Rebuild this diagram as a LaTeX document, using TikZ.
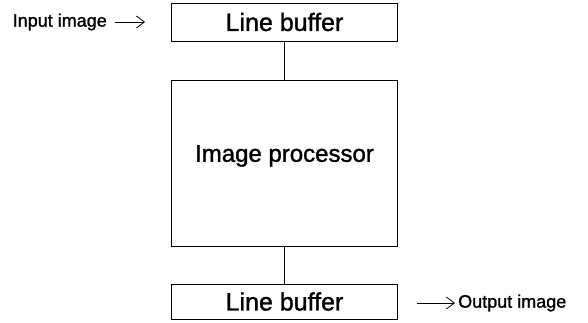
\documentclass[tikz,border=0pt]{standalone}
\usepackage{fontspec}
\setmainfont{Liberation Sans}[FakeBold=1.3]
\usetikzlibrary{arrows.meta}

\begin{document}
\begin{tikzpicture}[x=1pt, y=-1pt,
  block/.style={draw, line width=0.9pt, inner sep=0pt, minimum width=226pt,
    font=\fontsize{25}{29}\selectfont},
  sidelabel/.style={inner sep=0pt, font=\fontsize{18}{22}\selectfont},
  link/.style={line width=0.9pt},
  flow/.style={line width=0.8pt, -{Straight Barb[length=8pt, width=12pt, line width=0.8pt]}}
]
  \useasboundingbox (0,0) rectangle (588,323);

  % the three stacked blocks
  \node[block, minimum height=38pt]  (lbin)  at (284.5, 22)    {Line buffer};
  \node[block, minimum height=166pt] (proc)  at (284.5, 163)   {};
  \node[font=\fontsize{24}{28}\selectfont, inner sep=0pt] (proctext) at (284.5, 156) {Image processor};
  \node[block, minimum height=35pt]  (lbout) at (284.5, 301.5) {Line buffer};

  % vertical links between the blocks
  \draw[link] (lbin.south) -- (proc.north);
  \draw[link] (proc.south) -- (lbout.north);

  % input and output labels with their arrows
  \node[sidelabel, anchor=east] (inp) at (107, 22) {Input image};
  \node[sidelabel, anchor=west] (outp) at (458, 303) {Output image};

  \draw[flow, shorten <=8pt, shorten >=26pt] (inp.east) -- (inp.east -| lbin.west);
  \draw[flow, shorten <=19pt, shorten >=3pt] (lbout.east |- outp.west) -- (outp.west);
\end{tikzpicture}
\end{document}
